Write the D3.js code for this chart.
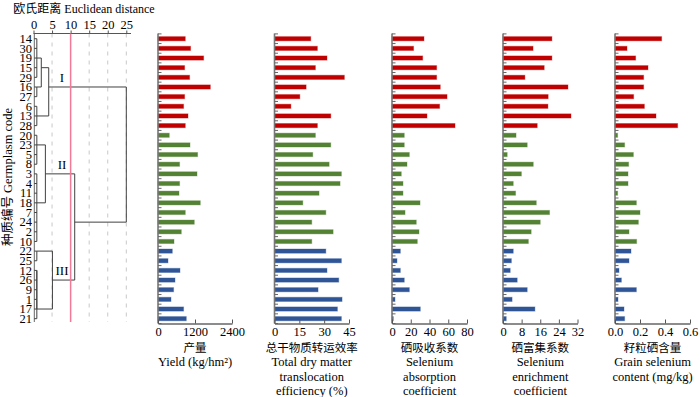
<!DOCTYPE html>
<html lang="en">
<head>
<meta charset="utf-8">
<title>Germplasm cluster chart</title>
<script src="https://cdn.jsdelivr.net/npm/d3@7"></script>
<style>
  body { margin: 0; background: #fff; }
  svg text { font-family: "Liberation Serif", "Times New Roman", "Noto Sans CJK SC", serif; fill: #000; }
</style>
</head>
<body>
<script>
// germplasm codes in dendrogram order, with their cluster
const codes = ["14","30","19","15","29","16","27","6","13","28",
               "20","23","5","8","3","4","11","18","7","24","2","10",
               "22","25","12","26","9","1","17","21"]
const clusterOf = ["I","I","I","I","I","I","I","I","I","I",
                   "II","II","II","II","II","II","II","II","II","II","II","II",
                   "III","III","III","III","III","III","III","III"]
const clusterColor = { I: "#c00000", II: "#548235", III: "#2f5597" }

// series values (same order as codes)
const yieldVals = [885,1057,1480,863,1025,1697,863,830,973,885,
                   366,1038,1285,701,1265,701,681,1372,885,1177,756,519,
                   464,324,713,551,506,421,830,918]
const dmTransEff = [21.9,25.9,31.7,24.7,42.2,19.1,15.3,9.9,34.0,25.9,
                    24.7,34.0,23.1,33.0,40.4,39.6,26.9,17.1,31.0,22.5,35.4,22.5,
                    31.0,40.4,31.7,38.8,26.3,40.8,38.0,40.4]
const seAbsorb = [34.1,23.0,32.7,47.6,47.6,51.5,58.7,50.8,37.3,67.2,
                  13.1,13.1,18.5,16.0,9.9,11.7,11.7,29.9,13.9,25.9,28.8,27.0,
                  8.9,5.3,8.9,13.1,18.5,3.2,30.2,1.4]
const seEnrich = [21.0,12.9,21.0,17.7,9.4,27.9,19.4,19.3,29.2,14.7,
                  5.6,10.4,1.8,13.0,7.9,4.4,5.4,14.3,20.0,16.0,12.1,10.9,
                  4.4,3.6,3.1,6.1,10.4,3.9,13.7,1.4]
const grainSe = [0.373,0.096,0.165,0.264,0.229,0.229,0.149,0.235,0.328,0.501,
                 0.021,0.077,0.147,0.109,0.104,0.104,0.021,0.171,0.200,0.187,0.112,0.173,
                 0.128,0.112,0.032,0.051,0.171,0.024,0.072,0.077]

const panelTicks = [[0,1200,2400],[0,15,30,45],[0,20,40,60,80],[0,8,16,24,32],[0,0.2,0.4,0.6]]
const panelTitles = [
  ["产量","Yield (kg/hm²)"],
  ["总干物质转运效率","Total dry matter","translocation","efficiency (%)"],
  ["硒吸收系数","Selenium","absorption","coefficient"],
  ["硒富集系数","Selenium","enrichment","coefficient"],
  ["籽粒硒含量","Grain selenium","content (mg/kg)"]
]
const series = [yieldVals, dmTransEff, seAbsorb, seEnrich, grainSe]

// dendrogram (rescaled distance), leaves are codes
const tree = {h:25, c:[
  {h:4.1, c:[
    {h:2.1, c:[ {h:0.9, c:["14","30","19","15","29"]}, {h:0.9, c:["16","27"]} ]},
    {h:0.9, c:["6","13","28"]}
  ]},
  {h:11.1, c:[
    {h:3.2, c:[ {h:0.9, c:["20","23","5","8"]}, {h:0.9, c:["3","4","11","18","7","24","2","10"]} ]},
    {h:5.1, c:[ {h:0.9, c:["22","25"]},
                {h:0.9, c:[{h:0.9, c:[{h:0.9, c:[{h:0.9, c:[{h:0.9, c:["12","26"]},"9"]},"1"]},"17"]},"21"]} ]}
  ]}
]}
const distTicks = [0,5,10,15,20,25]
const cutDist = 10

const W = 700, H = 397
const svg = d3.select("body").append("svg").attr("width", W).attr("height", H)

const y = d3.scaleBand().domain(codes).range([33.9, 323.5])
const yc = code => y(code) + y.bandwidth() / 2
const axisTop = 33.5, axisBottom = 323.5

// ---------- dendrogram ----------
const xd = d3.scaleLinear().domain([0,25]).range([33.5,126.3])

svg.append("text").attr("x", 84).attr("y", 13).attr("text-anchor","middle")
   .style("font-size","12px").text("欧氏距离 Euclidean distance")

// dashed guides
svg.selectAll("line.guide").data(distTicks.filter(d => d > 0 && d !== cutDist)).enter()
   .append("line").attr("class","guide")
   .attr("x1", d => xd(d)).attr("x2", d => xd(d))
   .attr("y1", axisTop).attr("y2", 322)
   .attr("stroke","#c8c8c8").attr("stroke-dasharray","4,5")

const gTop = svg.append("g").attr("transform", `translate(0,${axisTop})`)
   .call(d3.axisTop(xd).tickValues(distTicks).tickSizeInner(3).tickSizeOuter(0).tickPadding(2))
gTop.select(".domain").attr("stroke","#555").attr("d", `M${xd(0)},0H131`)
gTop.selectAll(".tick line").attr("stroke","#555")
gTop.selectAll(".tick text").style("font-size","12.5px")
   .style("font-family","'Liberation Serif', serif")

// left leaf axis
svg.append("line").attr("x1",34.3).attr("x2",34.3).attr("y1",axisTop).attr("y2",322)
   .attr("stroke","#666")
svg.selectAll("text.code").data(codes).enter().append("text").attr("class","code")
   .attr("x", 32).attr("y", d => yc(d)).attr("dy","0.34em").attr("text-anchor","end")
   .style("font-size","12.5px").text(d => d)

// hierarchy
const root = d3.hierarchy(tree, d => typeof d === "string" ? null : d.c)
root.eachAfter(n => {
  if (!n.children) { n.row = codes.indexOf(n.data); n.yy = yc(n.data); n.xx = 34.3 }
  else {
    const first = n.children[0].row, last = n.children[n.children.length-1].row
    n.row = Math.floor((first + last) / 2)
    n.yy = yc(codes[n.row]); n.xx = xd(n.data.h)
  }
})
const dg = svg.append("g").attr("stroke","#404040").attr("stroke-width",1).attr("fill","none")
root.each(n => {
  if (!n.children) return
  const kids = n.children
  dg.append("line").attr("x1", n.xx).attr("x2", n.xx)
    .attr("y1", kids[0].yy).attr("y2", kids[kids.length-1].yy)
  kids.forEach(k => {
    dg.append("line").attr("x1", k.xx).attr("x2", n.xx).attr("y1", k.yy).attr("y2", k.yy)
  })
})

// cut line
svg.append("line").attr("x1", xd(cutDist)).attr("x2", xd(cutDist))
   .attr("y1", axisTop).attr("y2", 322).attr("stroke","#f27a96").attr("stroke-width",1.5)

// cluster labels over the cluster links
const clusterNodes = [root.children[0], root.children[1].children[0], root.children[1].children[1]]
svg.selectAll("text.clab").data(clusterNodes).enter().append("text").attr("class","clab")
   .attr("x", 62).attr("y", n => n.yy - 5).attr("text-anchor","middle")
   .style("font-size","13px").text((n,i) => ["I","II","III"][i])

svg.append("text").attr("transform","translate(12,177) rotate(-90)").attr("text-anchor","middle")
   .style("font-size","12.5px").text("种质编号 Germplasm code")

// ---------- bar panels ----------
const panelX = [[158,232],[274.5,349],[392,467],[503,577.5],[615,690]]
const barH = 4.2

series.forEach((vals, p) => {
  const ticks = panelTicks[p]
  const x = d3.scaleLinear().domain([0, ticks[ticks.length-1]]).range(panelX[p])
  const g = svg.append("g")
  const rows = codes.map((c, i) => ({code: c, v: vals[i], cl: clusterOf[i]}))

  g.selectAll("rect").data(rows).enter().append("rect")
   .attr("x", x(0)).attr("y", d => yc(d.code) - barH/2)
   .attr("width", d => x(d.v) - x(0)).attr("height", barH)
   .attr("fill", d => clusterColor[d.cl])
   .attr("stroke", d => clusterColor[d.cl]).attr("stroke-opacity",0.35).attr("stroke-width",1)

  // left axis with band ticks
  g.append("line").attr("x1", x(0)).attr("x2", x(0)).attr("y1", axisTop).attr("y2", axisBottom)
   .attr("stroke","#777").attr("stroke-width",1.6)
  const bounds = codes.map(c => y(c)).concat([y(codes[codes.length-1]) + y.bandwidth()])
  g.selectAll("line.bt").data(bounds).enter().append("line").attr("class","bt")
   .attr("x1", x(0)).attr("x2", x(0) + 3.5).attr("y1", d => d).attr("y2", d => d)
   .attr("stroke","#666")

  const ax = g.append("g").attr("transform", `translate(0,${axisBottom})`)
   .call(d3.axisBottom(x).tickValues(ticks).tickSizeInner(-4).tickSizeOuter(0).tickPadding(4)
         .tickFormat(p === 4 ? d3.format(".1f") : d3.format("d")))
  ax.select(".domain").attr("stroke","#666").attr("stroke-width",1.4)
  ax.selectAll(".tick line").attr("stroke","#555")
  ax.selectAll(".tick text").style("font-size","12.5px")
    .style("font-family","'Liberation Serif', serif").attr("fill","#000")

  const cx = (panelX[p][0] + panelX[p][1]) / 2
  g.selectAll("text.ttl").data(panelTitles[p]).enter().append("text").attr("class","ttl")
   .attr("x", cx).attr("y", (d, i) => 351.5 + i * 14.5).attr("text-anchor","middle")
   .style("font-size", (d, i) => i === 0 ? "11.5px" : "12.5px").text(d => d)
})
</script>
</body>
</html>
